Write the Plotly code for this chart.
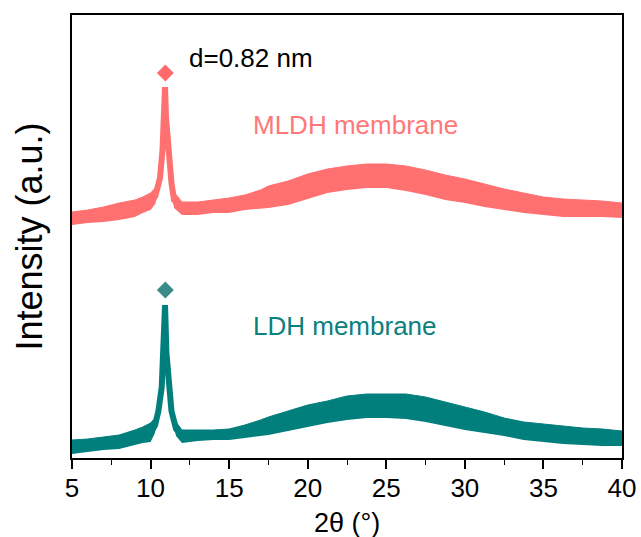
import plotly.graph_objects as go

# ---------------- data (intensity in a.u.) ----------------
ldh_x = [5, 6, 7, 8, 9, 9.5, 10, 10.28, 10.5, 10.71, 10.82, 10.92, 11.01, 11.16, 11.33, 11.62,
         12, 12.5, 13, 14, 15, 16, 17, 17.5, 18.75, 20, 21.25, 22.5, 23.75, 25, 26.25, 27.5,
         28.75, 30, 31.25, 32.5, 33.75, 35, 36.25, 37.5, 38.75, 40]
ldh_hi = [18, 19, 21, 23, 28, 31, 35, 40, 50, 71, 105, 153, 105, 71, 50, 36,
          28, 28, 28, 28, 29, 33, 38, 41, 47, 53, 57, 62, 64, 64, 64, 61,
          56, 51, 46, 40, 36, 34, 32, 30, 29, 27]
ldh_lo = [4, 6, 8, 9, 13, 15, 16, 25, 44, 71, 105, 153, 105, 71, 44, 22,
          15, 16, 17, 18, 18, 20, 22, 23, 27, 31, 35, 38, 40, 40, 39, 36,
          32, 28, 25, 22, 18, 16, 14, 13, 12, 12]

mldh_x = [5, 6, 7, 8, 9, 9.5, 10, 10.3, 10.47, 10.6, 10.76, 10.86, 10.92, 10.98, 11.11, 11.33, 11.49,
          12, 13, 14, 15, 16, 17, 17.5, 18.75, 20, 21.25, 22.5, 23.75, 25, 26.25, 27.5,
          28.75, 30, 31.25, 32.5, 33.75, 35, 36.25, 37.5, 38.75, 40]
mldh_hi = [246, 248, 251, 255, 258, 261, 265, 270, 276, 283, 308, 341, 371, 341, 308, 280, 266,
           256, 256, 258, 260, 263, 268, 272, 277, 284, 289, 292, 294, 294, 292, 288,
           283, 279, 274, 269, 265, 261, 259, 258, 257, 255]
mldh_lo = [233, 235, 236, 238, 241, 245, 248, 254, 264, 277, 308, 341, 371, 341, 308, 270, 250,
           243, 243, 245, 245, 248, 249, 250, 253, 259, 265, 268, 270, 270, 267, 263,
           258, 255, 251, 248, 245, 243, 241, 241, 241, 240]

peak_pos = [10.94]
ldh_marker = [168]
mldh_marker = [385]

x_ticks = [5, 10, 15, 20, 25, 30, 35, 40]

RED = "#FF7070"
TEAL = "#007F7D"
FONT = "Liberation Sans, Arial, sans-serif"


def add_series(fig, x, hi, lo, color):
    mid = [(a + b) / 2 for a, b in zip(hi, lo)]
    fig.add_trace(go.Scatter(x=x, y=lo, mode="lines", line=dict(width=0, color=color),
                             hoverinfo="skip", showlegend=False))
    fig.add_trace(go.Scatter(x=x, y=hi, mode="lines", line=dict(width=1, color=color),
                             fill="tonexty", fillcolor=color, showlegend=False))
    fig.add_trace(go.Scatter(x=x, y=mid, mode="lines", line=dict(width=6, color=color),
                             showlegend=False))


fig = go.Figure()
add_series(fig, mldh_x, mldh_hi, mldh_lo, RED)
add_series(fig, ldh_x, ldh_hi, ldh_lo, TEAL)

fig.add_trace(go.Scatter(x=peak_pos, y=mldh_marker, mode="markers",
                         marker=dict(symbol="diamond", size=13, color="#FF6A6A"), showlegend=False))
fig.add_trace(go.Scatter(x=peak_pos, y=ldh_marker, mode="markers",
                         marker=dict(symbol="diamond", size=13, color="#3A8C8C"), showlegend=False))

fig.update_layout(
    width=641, height=537,
    margin=dict(l=72, r=19, t=15, b=79, autoexpand=False),
    plot_bgcolor="white", paper_bgcolor="white",
    font=dict(family=FONT, color="black"),
    showlegend=False,
    xaxis=dict(range=[5, 40], tickvals=x_ticks, ticks="outside", ticklen=9, tickwidth=1.6,
               tickcolor="black", showline=True, linecolor="black", linewidth=1.8, mirror=True,
               showgrid=False, zeroline=False, tickfont=dict(size=26, family=FONT),
               ticklabelstandoff=-3, automargin=False,
               minor=dict(dtick=2.5, tick0=5, ticks="outside", ticklen=5, tickwidth=1.4,
                          tickcolor="black", showgrid=False)),
    yaxis=dict(range=[0, 443], showticklabels=False, ticks="", showline=True, linecolor="black",
               linewidth=1.8, mirror=True, showgrid=False, zeroline=False, automargin=False),
    annotations=[
        dict(text="2θ (°)", xref="paper", yref="paper", x=0.5, y=-0.1467, showarrow=False,
             xanchor="center", yanchor="middle", font=dict(size=27, family=FONT)),
        dict(text="Intensity (a.u.)", xref="paper", yref="paper", x=-0.078, y=0.5, showarrow=False,
             textangle=-90, xanchor="center", yanchor="middle", font=dict(size=36, family=FONT)),
        dict(text="d=0.82 nm", x=16.39, y=400, showarrow=False, xanchor="center", yanchor="middle",
             font=dict(size=26, family=FONT, color="black")),
        dict(text="MLDH membrane", x=23.01, y=333, showarrow=False, xanchor="center", yanchor="middle",
             font=dict(size=26, family=FONT, color="#FF7878")),
        dict(text="LDH membrane", x=22.37, y=132, showarrow=False, xanchor="center", yanchor="middle",
             font=dict(size=26, family=FONT, color="#0A807E")),
    ],
)

fig.write_html("out.html")
